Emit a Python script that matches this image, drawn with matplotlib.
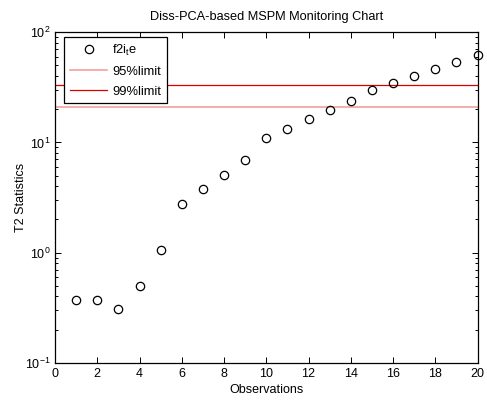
import matplotlib
matplotlib.use("Agg")
import matplotlib.pyplot as plt
from matplotlib.ticker import LogLocator, NullFormatter, FixedLocator

plt.rcParams['font.family'] = ['Liberation Sans', 'DejaVu Sans']
plt.rcParams['mathtext.fontset'] = 'custom'
plt.rcParams['mathtext.rm'] = 'Liberation Sans'
plt.rcParams['mathtext.it'] = 'Liberation Sans'

# T2 statistic per observation
observations = list(range(1, 21))
t2_values = [0.37, 0.37, 0.31, 0.50, 1.05, 2.78, 3.75, 5.05, 6.95, 10.9,
             13.3, 16.3, 19.5, 23.6, 30.0, 34.8, 40.0, 46.0, 53.4, 62.5]
limit_95 = 20.9
limit_99 = 33.5
x_ticks = [0, 2, 4, 6, 8, 10, 12, 14, 16, 18, 20]

fs = 9
fig = plt.figure(figsize=(4.87, 4.0), dpi=100)
ax = fig.add_axes([0.113, 0.0933, 0.8675, 0.826])

ax.plot(observations, t2_values, linestyle='none', marker='o', markersize=6,
        markerfacecolor='none', markeredgecolor='black', markeredgewidth=0.9,
        label=r'f2i$_\mathregular{t}$e', clip_on=False, zorder=3)
ax.axhline(limit_95, color='#f4a0a0', linewidth=1.2, label='95%limit')
ax.axhline(limit_99, color='#d80000', linewidth=0.9, label='99%limit')

ax.set_yscale('log')
ax.set_xlim(0, 20)
ax.set_ylim(0.1, 100)
ax.xaxis.set_major_locator(FixedLocator(x_ticks))
ax.yaxis.set_major_locator(LogLocator(base=10, numticks=10))
ax.yaxis.set_minor_locator(LogLocator(base=10, subs=range(2, 10), numticks=20))
ax.yaxis.set_minor_formatter(NullFormatter())

ax.tick_params(which='both', direction='in', top=True, right=True, labelsize=fs)
ax.tick_params(which='major', length=4, width=0.7)
ax.tick_params(which='minor', length=2.5, width=0.7)
for s in ax.spines.values():
    s.set_linewidth(0.9)

ax.set_title('Diss-PCA-based MSPM Monitoring Chart', fontsize=9.2, pad=9)
ax.set_xlabel('Observations', fontsize=fs, labelpad=3)
ax.set_ylabel('T2 Statistics', fontsize=fs, labelpad=-2)

leg = ax.legend(loc='upper left', bbox_to_anchor=(0.0155, 0.993), fontsize=9.3,
                fancybox=False, framealpha=1, edgecolor='black',
                handlelength=2.9, handletextpad=0.35, borderpad=0.45,
                labelspacing=0.6, borderaxespad=0.2)
leg.get_frame().set_linewidth(0.9)

fig.savefig('out.png', dpi=100)
